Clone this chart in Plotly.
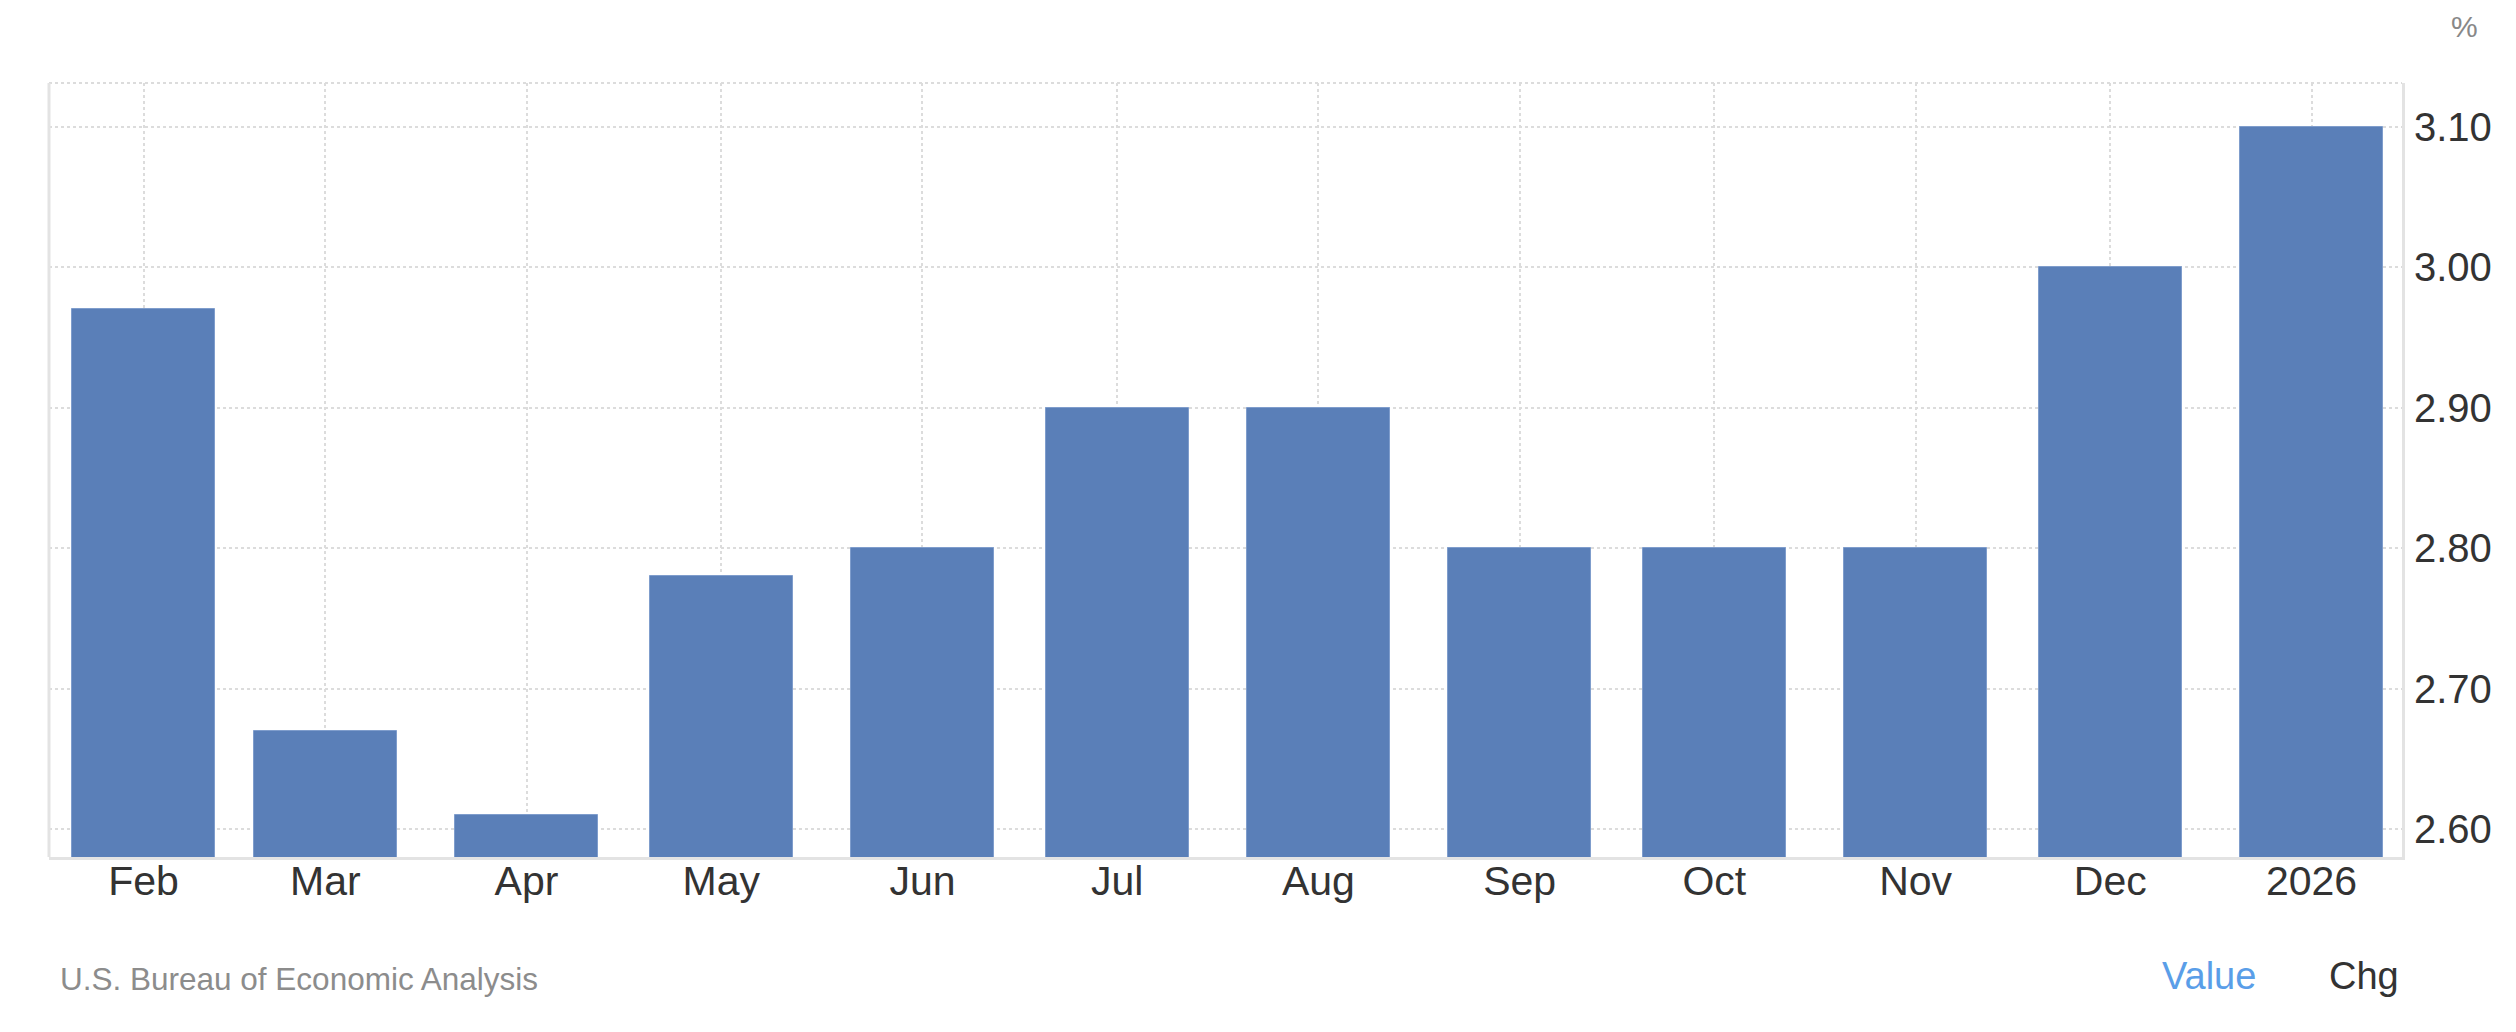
import plotly.graph_objects as go

# PCE price index, annual rate (%)
months = ['2025-02-01', '2025-03-01', '2025-04-01', '2025-05-01', '2025-06-01', '2025-07-01',
          '2025-08-01', '2025-09-01', '2025-10-01', '2025-11-01', '2025-12-01', '2026-01-01']
tick_labels = ['Feb', 'Mar', 'Apr', 'May', 'Jun', 'Jul', 'Aug', 'Sep', 'Oct', 'Nov', 'Dec', '2026']
values = [2.97, 2.67, 2.61, 2.78, 2.80, 2.90, 2.90, 2.80, 2.80, 2.80, 3.00, 3.10]
y_ticks = [2.60, 2.70, 2.80, 2.90, 3.00, 3.10]

BAR = '#5a7fb8'
GRID = '#dcdcdc'
AXIS = '#e3e3e3'
TEXT = '#333333'

fig = go.Figure(go.Bar(
    x=months, y=values,
    width=22 * 86400000,
    marker=dict(color=BAR, line=dict(color='#7f9dcc', width=1)),
    hovertemplate='%{x|%b %Y}: %{y:.2f}%<extra></extra>',
))

# page body has an 8px margin, so the figure is a bit smaller than the window
fig.update_layout(
    width=2500, height=1016,
    margin=dict(l=41, r=106, t=75, b=167),
    plot_bgcolor='white', paper_bgcolor='white',
    font=dict(family='Liberation Sans, Arial, sans-serif', color=TEXT),
    showlegend=False,
    bargap=0,
)

fig.update_xaxes(
    type='date',
    range=['2025-01-17 10:30', '2026-01-14 22:30'],
    tickvals=months, ticktext=tick_labels,
    tickfont=dict(size=41, color=TEXT),
    showgrid=True, gridcolor=GRID, griddash='dot', gridwidth=2,
    showline=True, linecolor=AXIS, linewidth=3,
    ticks='', ticklen=0, ticklabelstandoff=-14,
    automargin=False,
)

fig.update_yaxes(
    side='right',
    range=[2.580, 3.1313],
    tickvals=y_ticks, tickformat='.2f',
    tickfont=dict(size=40, color=TEXT),
    showgrid=True, gridcolor=GRID, griddash='dot', gridwidth=2,
    showline=True, linecolor=AXIS, linewidth=3,
    ticks='', ticklen=0, ticklabelstandoff=1,
    zeroline=False, automargin=False,
)

# frame: dotted top edge and solid left edge
fig.add_shape(type='line', xref='paper', yref='paper', x0=0, x1=1, y0=1, y1=1,
              line=dict(color=GRID, width=2, dash='dot'))
fig.add_shape(type='line', xref='paper', yref='paper', x0=0, x1=0, y0=0, y1=1,
              line=dict(color=AXIS, width=3))

fig.add_annotation(text='%', xref='paper', yref='paper', x=1.0198, y=1.0724,
                   xanchor='left', yanchor='middle', showarrow=False,
                   font=dict(size=30, color='#888888'))
fig.add_annotation(text='U.S. Bureau of Economic Analysis', xref='paper', yref='paper',
                   x=0.004, y=-0.157, xanchor='left', yanchor='middle', showarrow=False,
                   font=dict(size=31.5, color='#8c8c8c'))
fig.add_annotation(text='Value', xref='paper', yref='paper', x=0.8970, y=-0.1537,
                   xanchor='left', yanchor='middle', showarrow=False,
                   font=dict(size=38, color='#5a9ee8'))
fig.add_annotation(text='Chg', xref='paper', yref='paper', x=0.9680, y=-0.1537,
                   xanchor='left', yanchor='middle', showarrow=False,
                   font=dict(size=38, color=TEXT))

fig.write_html('out.html')
